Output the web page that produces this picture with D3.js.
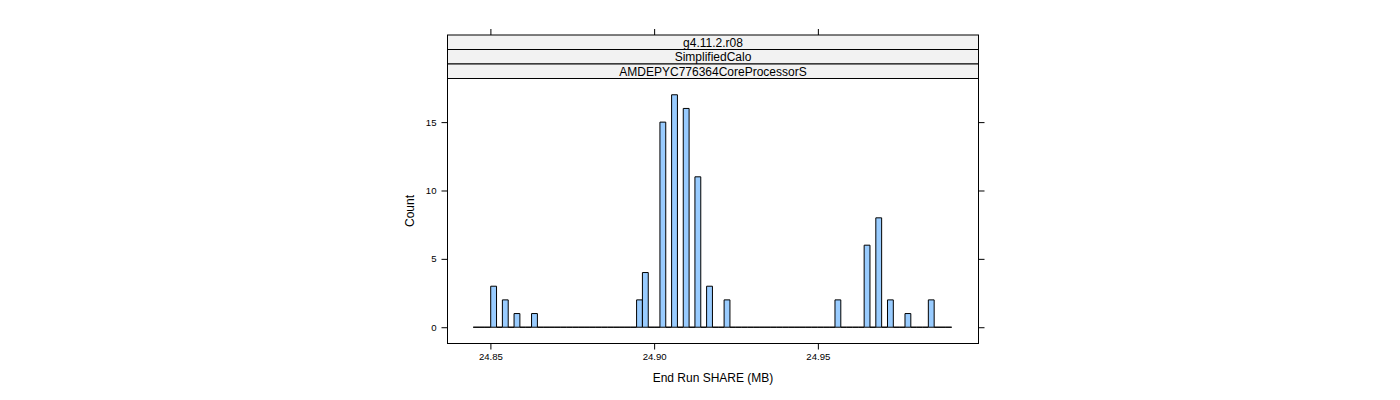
<!DOCTYPE html>
<html>
<head>
<meta charset="utf-8">
<script src="https://cdn.jsdelivr.net/npm/d3@7/dist/d3.min.js"></script>
<style>
  html, body { margin: 0; padding: 0; background: #ffffff; }
  svg { display: block; }
  text { font-family: "Liberation Sans", Arial, Helvetica, sans-serif; fill: #000; }
</style>
</head>
<body>
<svg id="chart" width="1400" height="400"></svg>
<script>
// ---- data ----
const stripLabels = ["g4.11.2.r08", "SimplifiedCalo", "AMDEPYC776364CoreProcessorS"];
const binStart = 24.84475;   // lower edge of first histogram bin (MB)
const binWidth = 0.0017818;  // histogram bin width (MB)
const counts = [
  0, 0, 0, 3, 0, 2, 0, 1, 0, 0,
  1, 0, 0, 0, 0, 0, 0, 0, 0, 0,
  0, 0, 0, 0, 0, 0, 0, 0, 2, 4,
  0, 0, 15, 0, 17, 0, 16, 0, 11, 0,
  3, 0, 0, 2, 0, 0, 0, 0, 0, 0,
  0, 0, 0, 0, 0, 0, 0, 0, 0, 0,
  0, 0, 2, 0, 0, 0, 0, 6, 0, 8,
  0, 2, 0, 0, 1, 0, 0, 0, 2, 0,
  0, 0
];
const xTicks = [24.85, 24.90, 24.95];
const xTickLabels = ["24.85", "24.90", "24.95"];
const yTicks = [0, 5, 10, 15];
const yTickLabels = ["0", "5", "10", "15"];
const xDomain = [24.83690, 24.99905];
const yDomain = [-1.19, 18.19];

// ---- layout ----
const box = { left: 447.5, right: 978.5, top: 78.5, bottom: 343.5 };
const stripH = 14.5;
const stripTop = box.top - stripH * stripLabels.length;

const svg = d3.select("#chart");

const x = d3.scaleLinear().domain(xDomain).range([box.left, box.right]);
const y = d3.scaleLinear().domain(yDomain).range([box.bottom, box.top]);

// bars (zero-count bins render as a line at the baseline)
const bins = counts.map((c, i) => ({
  x0: binStart + i * binWidth,
  x1: binStart + (i + 1) * binWidth,
  count: c
}));

svg.append("g")
  .selectAll("path")
  .data(bins)
  .join("path")
  .attr("d", d => {
    const p = d3.path();
    const X0 = x(d.x0), X1 = x(d.x1), Y0 = y(0), Y1 = y(d.count);
    p.moveTo(X0, Y0); p.lineTo(X1, Y0); p.lineTo(X1, Y1); p.lineTo(X0, Y1); p.closePath();
    return p.toString();
  })
  .attr("fill", "#99CCFF")
  .attr("stroke", "#000")
  .attr("stroke-width", 1);

// panel box
svg.append("rect")
  .attr("x", box.left).attr("y", box.top)
  .attr("width", box.right - box.left).attr("height", box.bottom - box.top)
  .attr("fill", "none").attr("stroke", "#000").attr("stroke-width", 1);

// strips
const strips = svg.append("g");
stripLabels.forEach((lab, i) => {
  const top = stripTop + i * stripH;
  strips.append("rect")
    .attr("x", box.left).attr("y", top)
    .attr("width", box.right - box.left).attr("height", stripH)
    .attr("fill", "#F2F2F2").attr("stroke", "#000").attr("stroke-width", 1);
  strips.append("text")
    .attr("x", (box.left + box.right) / 2)
    .attr("y", top + stripH / 2 + 4.3)
    .attr("text-anchor", "middle")
    .attr("font-size", "12px")
    .text(lab);
});

// axes
const tickLen = 6;
const bottomAxis = d3.axisBottom(x).tickValues(xTicks)
  .tickFormat((d, i) => xTickLabels[i]).tickSizeInner(tickLen).tickSizeOuter(0).tickPadding(4);
const topAxis = d3.axisTop(x).tickValues(xTicks).tickFormat("").tickSizeInner(tickLen).tickSizeOuter(0);
const leftAxis = d3.axisLeft(y).tickValues(yTicks)
  .tickFormat((d, i) => yTickLabels[i]).tickSizeInner(tickLen).tickSizeOuter(0).tickPadding(5);
const rightAxis = d3.axisRight(y).tickValues(yTicks).tickFormat("").tickSizeInner(tickLen).tickSizeOuter(0);

function style(g) {
  g.select(".domain").remove();
  g.selectAll(".tick line").attr("stroke", "#000");
  g.selectAll(".tick text").attr("font-family", "Liberation Sans, Arial, sans-serif")
    .attr("font-size", "9.6px").attr("fill", "#000");
}

svg.append("g").attr("transform", `translate(0,${box.bottom})`).call(bottomAxis).call(style);
svg.append("g").attr("transform", `translate(0,${stripTop})`).call(topAxis).call(style);
svg.append("g").attr("transform", `translate(${box.left},0)`).call(leftAxis).call(style);
svg.append("g").attr("transform", `translate(${box.right},0)`).call(rightAxis).call(style);

// axis titles
svg.append("text")
  .attr("x", (box.left + box.right) / 2)
  .attr("y", 382)
  .attr("text-anchor", "middle")
  .attr("font-size", "12px")
  .text("End Run SHARE (MB)");

svg.append("text")
  .attr("transform", `translate(414,${(box.top + box.bottom) / 2}) rotate(-90)`)
  .attr("text-anchor", "middle")
  .attr("font-size", "12px")
  .text("Count");
</script>
</body>
</html>
